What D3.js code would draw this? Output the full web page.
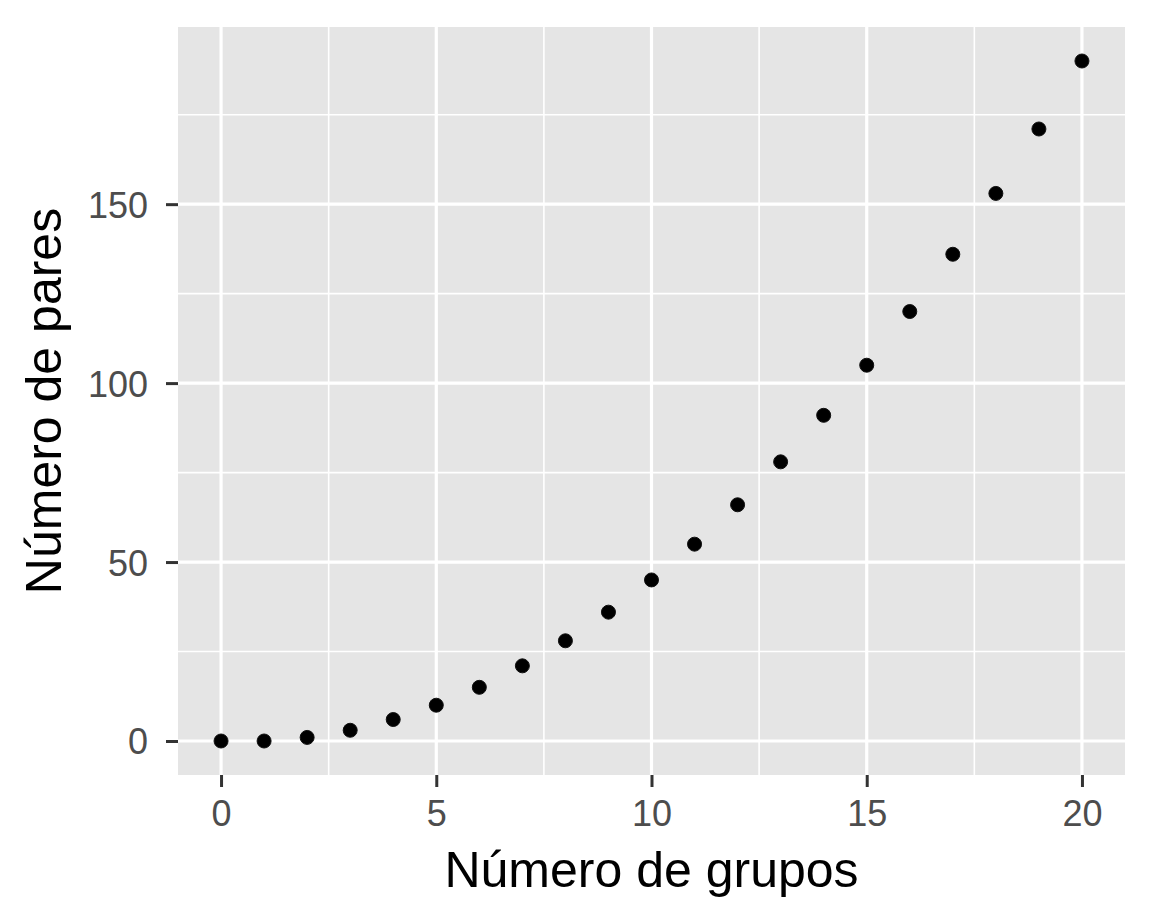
<!DOCTYPE html>
<html lang="es">
<head>
  <meta charset="UTF-8">
  <title>Número de pares vs Número de grupos</title>
  <script src="https://d3js.org/d3.v7.min.js"></script>
  <style>
    body {
      margin: 0;
      background: #fff;
      font-family: "Liberation Sans", Arial, sans-serif;
    }
    .tick-label {
      fill: #4d4d4d;
      font-size: 36px;
    }
    .axis-title {
      fill: #000;
      font-size: 50px;
    }
  </style>
</head>
<body>
  <svg width="1152" height="922"></svg>
  <script>
    // Data
    const grupos = [0, 1, 2, 3, 4, 5, 6, 7, 8, 9, 10, 11, 12, 13, 14, 15, 16, 17, 18, 19, 20];
    const pares = [0, 0, 1, 3, 6, 10, 15, 21, 28, 36, 45, 55, 66, 78, 91, 105, 120, 136, 153, 171, 190];
    const xTicks = [0, 5, 10, 15, 20];
    const xMinor = [2.5, 7.5, 12.5, 17.5];
    const yTicks = [0, 50, 100, 150];
    const yMinor = [25, 75, 125, 175];

    const svg = d3.select("svg");

    // panel box
    const panel = { left: 178, right: 1125, top: 27, bottom: 775 };

    const x = d3.scaleLinear().domain([-1, 21]).range([panel.left, panel.right]);
    const y = d3.scaleLinear().domain([-9.5, 199.5]).range([panel.bottom, panel.top]);

    svg.append("rect")
      .attr("x", panel.left)
      .attr("y", panel.top)
      .attr("width", panel.right - panel.left)
      .attr("height", panel.bottom - panel.top)
      .attr("fill", "#e5e5e5");

    // minor grid
    svg.selectAll(".minor-x")
      .data(xMinor)
      .enter()
      .append("line")
      .attr("x1", d => x(d)).attr("x2", d => x(d))
      .attr("y1", panel.top).attr("y2", panel.bottom)
      .attr("stroke", "#fff").attr("stroke-width", 1.6);

    svg.selectAll(".minor-y")
      .data(yMinor)
      .enter()
      .append("line")
      .attr("y1", d => y(d)).attr("y2", d => y(d))
      .attr("x1", panel.left).attr("x2", panel.right)
      .attr("stroke", "#fff").attr("stroke-width", 1.6);

    // major grid
    svg.selectAll(".major-x")
      .data(xTicks)
      .enter()
      .append("line")
      .attr("x1", d => x(d)).attr("x2", d => x(d))
      .attr("y1", panel.top).attr("y2", panel.bottom)
      .attr("stroke", "#fff").attr("stroke-width", 3.2);

    svg.selectAll(".major-y")
      .data(yTicks)
      .enter()
      .append("line")
      .attr("y1", d => y(d)).attr("y2", d => y(d))
      .attr("x1", panel.left).attr("x2", panel.right)
      .attr("stroke", "#fff").attr("stroke-width", 3.2);

    // axes (ggplot-ish ticks, no domain line)
    const xAxis = svg.append("g")
      .attr("transform", `translate(0,${panel.bottom})`)
      .call(d3.axisBottom(x).tickValues(xTicks).tickSize(12).tickPadding(13));
    const yAxis = svg.append("g")
      .attr("transform", `translate(${panel.left},0)`)
      .call(d3.axisLeft(y).tickValues(yTicks).tickSize(12).tickPadding(18));

    [xAxis, yAxis].forEach(g => {
      g.select(".domain").remove();
      g.selectAll(".tick line").attr("stroke", "#333").attr("stroke-width", 3);
      g.selectAll(".tick text")
        .attr("class", "tick-label")
        .style("font-family", "'Liberation Sans', Arial, sans-serif");
    });
    xAxis.selectAll(".tick text").attr("dy", "0.71em");
    yAxis.selectAll(".tick text").attr("dy", "0.36em");

    // points
    svg.selectAll(".pt")
      .data(grupos)
      .enter()
      .append("circle")
      .attr("cx", (d, i) => x(d))
      .attr("cy", (d, i) => y(pares[i]))
      .attr("r", 7)
      .attr("fill", "#000")
      .attr("stroke", "#111")
      .attr("stroke-width", 1);

    // axis titles
    svg.append("text")
      .attr("class", "axis-title")
      .attr("x", (panel.left + panel.right) / 2)
      .attr("y", 887)
      .attr("text-anchor", "middle")
      .text("Número de grupos");

    svg.append("text")
      .attr("class", "axis-title")
      .attr("transform", `translate(61,${(panel.top + panel.bottom) / 2}) rotate(-90)`)
      .attr("text-anchor", "middle")
      .text("Número de pares");
  </script>
</body>
</html>
